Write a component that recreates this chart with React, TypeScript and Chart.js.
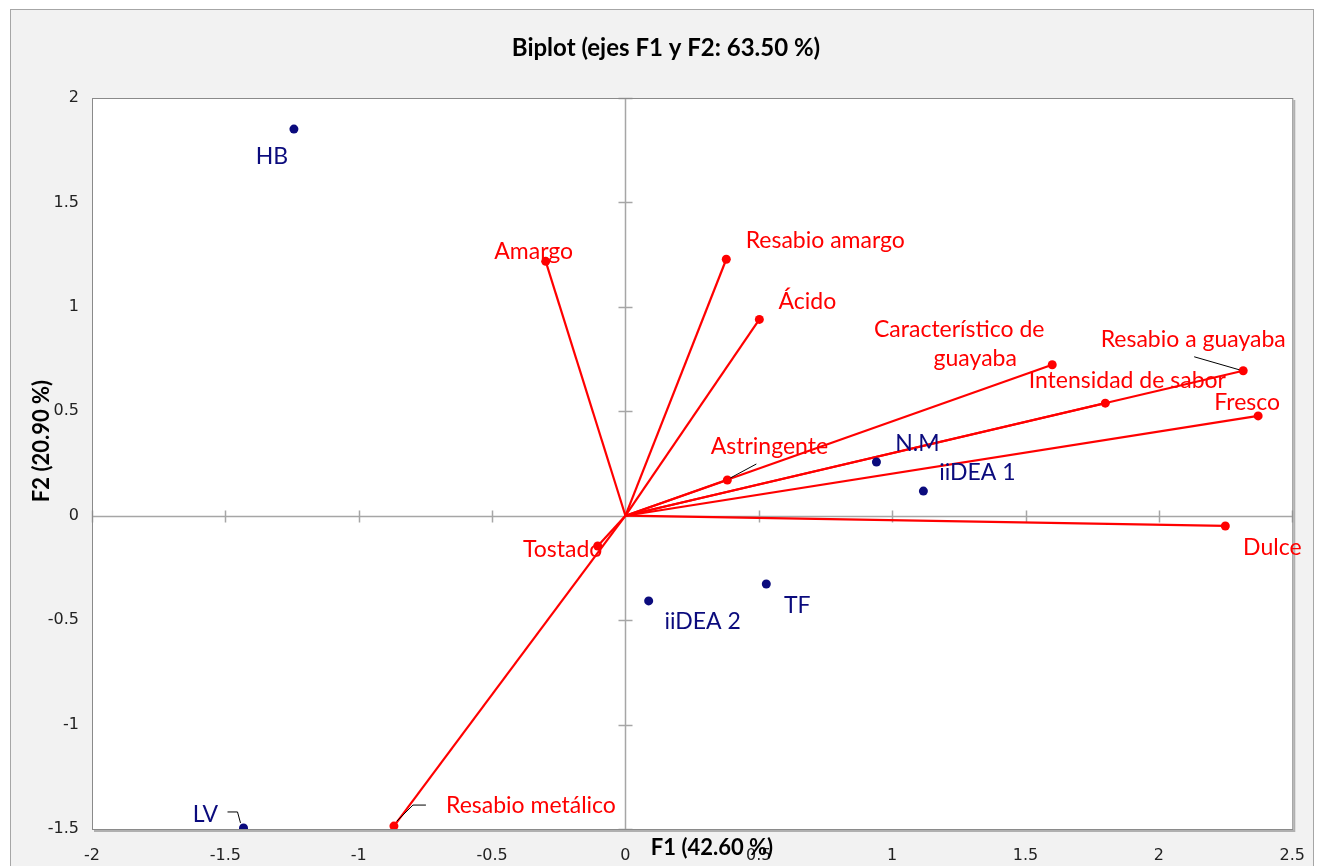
import React, { useEffect, useRef } from "react";
import { Chart, registerables } from "chart.js";

Chart.register(...registerables);

// ---- Data ----
const obsNames = ["HB", "LV", "N.M", "iiDEA 1", "iiDEA 2", "TF"];
const obsF1 = [-1.243, -1.432, 0.941, 1.117, 0.087, 0.528];
const obsF2 = [1.851, -1.495, 0.257, 0.118, -0.408, -0.327];

const varNames = [
  "Amargo",
  "Resabio amargo",
  "Ácido",
  "Característico de guayaba",
  "Resabio a guayaba",
  "Intensidad de sabor",
  "Fresco",
  "Astringente",
  "Dulce",
  "Tostado",
  "Resabio metálico",
];
const varF1 = [-0.299, 0.378, 0.502, 1.6, 2.316, 1.799, 2.372, 0.382, 2.249, -0.104, -0.868];
const varF2 = [1.218, 1.228, 0.94, 0.723, 0.694, 0.539, 0.478, 0.171, -0.049, -0.145, -1.486];

const xMin = -2;
const xMax = 2.5;
const yMin = -1.5;
const yMax = 2;
const tickStep = 0.5;

const chartTitle = "Biplot (ejes F1 y F2: 63.50 %)";
const xTitle = "F1 (42.60 %)";
const yTitle = "F2 (20.90 %)";

// ---- Label placement (styling) ----
type LabelSpec = { lines: { text: string; dx: number; dy: number }[]; leader?: number[][] };
const labelLayout: Record<string, LabelSpec> = {
  HB: { lines: [{ text: "HB", dx: -22, dy: 27 }] },
  LV: { lines: [{ text: "LV", dx: -38, dy: -13 }], leader: [[-3, -5], [-6, -16], [-16, -16]] },
  "N.M": { lines: [{ text: "N.M", dx: 41, dy: -18 }] },
  "iiDEA 1": { lines: [{ text: "iiDEA 1", dx: 54, dy: -18 }] },
  "iiDEA 2": { lines: [{ text: "iiDEA 2", dx: 54, dy: 21 }] },
  TF: { lines: [{ text: "TF", dx: 31, dy: 22 }] },
  Amargo: { lines: [{ text: "Amargo", dx: -12, dy: -10 }] },
  "Resabio amargo": { lines: [{ text: "Resabio amargo", dx: 99, dy: -19 }] },
  "Ácido": { lines: [{ text: "Ácido", dx: 48, dy: -18 }] },
  "Característico de guayaba": {
    lines: [
      { text: "Característico de", dx: -93, dy: -35 },
      { text: "guayaba", dx: -77, dy: -6 },
    ],
  },
  "Resabio a guayaba": { lines: [{ text: "Resabio a guayaba", dx: -50, dy: -31 }], leader: [[-4, -1], [-49, -14]] },
  "Intensidad de sabor": { lines: [{ text: "Intensidad de sabor", dx: 22, dy: -23 }] },
  Fresco: { lines: [{ text: "Fresco", dx: -11, dy: -13 }] },
  Astringente: { lines: [{ text: "Astringente", dx: 42, dy: -33 }], leader: [[3, -2], [29, -16]] },
  Dulce: { lines: [{ text: "Dulce", dx: 47, dy: 22 }] },
  Tostado: { lines: [{ text: "Tostado", dx: -35, dy: 4 }] },
  "Resabio metálico": { lines: [{ text: "Resabio metálico", dx: 137, dy: -20 }], leader: [[3, -5], [19, -21], [32, -21]] },
};

const OBS_COLOR = "#0b0b7d";
const VAR_COLOR = "#ff0000";
const LABEL_FONT = "23px Lato, 'Open Sans', sans-serif";
const TITLE_FONT = "bold 24px Lato, 'Open Sans', sans-serif";
const AXIS_TITLE_FONT = "bold 22px Lato, 'Open Sans', sans-serif";

const biplotPlugin = {
  id: "biplotDecor",
  beforeDraw(chart: any) {
    const { ctx, chartArea: a } = chart;
    ctx.save();
    ctx.fillStyle = "#ffffff";
    ctx.fillRect(a.left, a.top, a.right - a.left, a.bottom - a.top);
    ctx.restore();
  },
  beforeDatasetsDraw(chart: any) {
    const { ctx, chartArea: a } = chart;
    const xs = chart.scales.x;
    const ys = chart.scales.y;
    const x0 = Math.round(xs.getPixelForValue(0)) + 0.5;
    const y0 = Math.round(ys.getPixelForValue(0)) + 0.5;
    ctx.save();
    ctx.strokeStyle = "#a6a6a6";
    ctx.lineWidth = 1.5;
    ctx.beginPath();
    ctx.moveTo(x0, a.top);
    ctx.lineTo(x0, a.bottom);
    ctx.moveTo(a.left, y0);
    ctx.lineTo(a.right, y0);
    xs.ticks.forEach((t: any) => {
      if (t.value === 0) return;
      const px = Math.round(xs.getPixelForValue(t.value)) + 0.5;
      ctx.moveTo(px, y0 - 6);
      ctx.lineTo(px, y0 + 6);
    });
    ys.ticks.forEach((t: any) => {
      if (t.value === 0) return;
      const py = Math.round(ys.getPixelForValue(t.value)) + 0.5;
      ctx.moveTo(x0 - 7, py);
      ctx.lineTo(x0 + 7, py);
    });
    ctx.stroke();
    // plot border
    ctx.strokeStyle = "#8a8a8a";
    ctx.lineWidth = 1;
    ctx.strokeRect(a.left + 0.5, a.top + 0.5, a.right - a.left, a.bottom - a.top);
    ctx.strokeStyle = "#b0b0b0";
    ctx.lineWidth = 2;
    ctx.beginPath();
    ctx.moveTo(a.right + 2, a.top + 2);
    ctx.lineTo(a.right + 2, a.bottom + 2);
    ctx.lineTo(a.left + 2, a.bottom + 2);
    ctx.stroke();
    ctx.restore();
  },
  afterDatasetsDraw(chart: any) {
    const { ctx } = chart;
    const xs = chart.scales.x;
    const ys = chart.scales.y;
    ctx.save();
    ctx.font = LABEL_FONT;
    ctx.textAlign = "center";
    ctx.textBaseline = "middle";
    const drawLabel = (name: string, x: number, y: number, color: string) => {
      const spec = labelLayout[name];
      if (!spec) return;
      const px = xs.getPixelForValue(x);
      const py = ys.getPixelForValue(y);
      if (spec.leader) {
        ctx.strokeStyle = "#000";
        ctx.lineWidth = 1;
        ctx.beginPath();
        spec.leader.forEach((p, i) => {
          if (i === 0) ctx.moveTo(px + p[0], py + p[1]);
          else ctx.lineTo(px + p[0], py + p[1]);
        });
        ctx.stroke();
      }
      ctx.fillStyle = color;
      spec.lines.forEach((l) => ctx.fillText(l.text, px + l.dx, py + l.dy));
    };
    obsNames.forEach((n, i) => drawLabel(n, obsF1[i], obsF2[i], OBS_COLOR));
    varNames.forEach((n, i) => drawLabel(n, varF1[i], varF2[i], VAR_COLOR));
    ctx.restore();
  },
  afterDraw(chart: any) {
    const { ctx } = chart;
    ctx.save();
    ctx.fillStyle = "#000";
    ctx.textAlign = "center";
    ctx.textBaseline = "middle";
    ctx.font = TITLE_FONT;
    ctx.fillText(chartTitle, 666, 48);
    ctx.font = AXIS_TITLE_FONT;
    ctx.fillText(xTitle, 712, 848);
    ctx.translate(42, 441);
    ctx.rotate(-Math.PI / 2);
    ctx.fillText(yTitle, 0, 0);
    ctx.restore();
  },
};

const fmtTick = (v: any) => String(Number(v));

export default function App() {
  const ref = useRef<HTMLCanvasElement | null>(null);
  useEffect(() => {
    if (!ref.current) return;
    const datasets: any[] = [
      {
        label: "Observaciones",
        data: obsF1.map((x, i) => ({ x, y: obsF2[i] })),
        backgroundColor: OBS_COLOR,
        borderColor: OBS_COLOR,
        pointRadius: 4.5,
        pointBorderWidth: 0,
        showLine: false,
      },
    ];
    varNames.forEach((n, i) => {
      datasets.push({
        label: n,
        data: [
          { x: 0, y: 0 },
          { x: varF1[i], y: varF2[i] },
        ],
        showLine: true,
        borderColor: VAR_COLOR,
        backgroundColor: VAR_COLOR,
        borderWidth: 2.2,
        pointRadius: [0, 4.5],
        pointBorderWidth: 0,
      });
    });
    const tickFont = { family: "'DejaVu Sans', sans-serif", size: 16 };
    const chart = new Chart(ref.current, {
      type: "scatter",
      data: { datasets },
      plugins: [biplotPlugin],
      options: {
        animation: false,
        responsive: false,
        devicePixelRatio: 1,
        layout: { padding: { left: 10, top: 98, right: 29, bottom: 0 } },
        plugins: { legend: { display: false }, tooltip: { enabled: false }, title: { display: false } },
        scales: {
          x: {
            type: "linear",
            min: xMin,
            max: xMax,
            ticks: { stepSize: tickStep, padding: 17, font: tickFont, color: "#222", maxRotation: 0, autoSkip: false, callback: fmtTick },
            grid: { display: false, drawTicks: false },
            border: { display: false },
            afterFit: (s: any) => {
              s.height = 37;
            },
          },
          y: {
            type: "linear",
            min: yMin,
            max: yMax,
            ticks: { stepSize: tickStep, padding: 13, font: tickFont, color: "#222", autoSkip: false, callback: fmtTick },
            grid: { display: false, drawTicks: false },
            border: { display: false },
            afterFit: (s: any) => {
              s.width = 82;
            },
          },
        },
      } as any,
    });
    return () => chart.destroy();
  }, []);
  return (
    <>
      <div
        style={{
          position: "fixed",
          left: 10,
          top: 9,
          width: 1304,
          height: 900,
          boxSizing: "border-box",
          background: "#f2f2f2",
          border: "1px solid #a6a6a6",
        }}
      />
      <canvas
        ref={ref}
        width={1322}
        height={866}
        style={{ position: "fixed", left: 0, top: 0, width: 1322, height: 866 }}
      />
    </>
  );
}
